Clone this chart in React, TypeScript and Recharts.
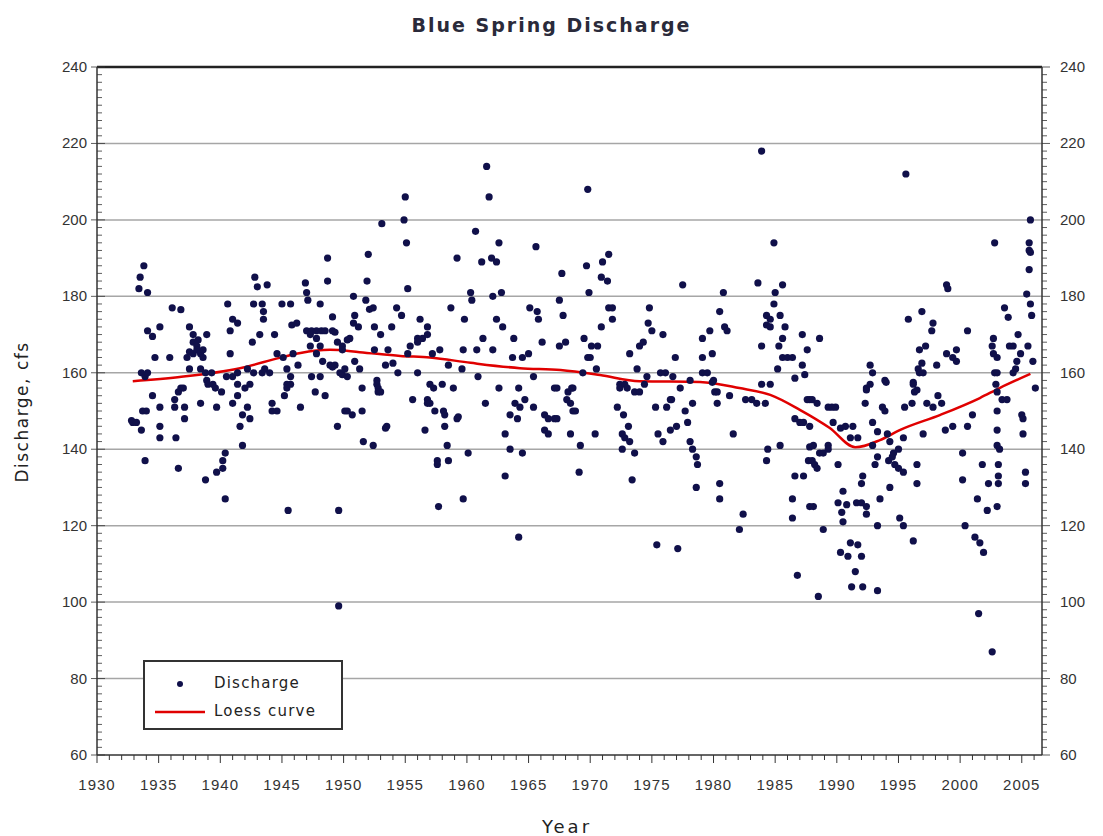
import React from "react"
import { ComposedChart, Scatter, Line, XAxis, YAxis, ReferenceLine, Legend } from "recharts"

const obs1930s = [
  [1932.8, 147.5], [1932.9, 147], [1933.2, 147], [1933.4, 182], [1933.5, 185], [1933.6, 160], [1933.6, 145],
  [1933.7, 150], [1933.8, 188], [1933.9, 159], [1933.9, 137], [1934.0, 150], [1934.1, 181], [1934.1, 171],
  [1934.1, 160], [1934.5, 169.5], [1934.5, 154], [1934.7, 164], [1935.1, 172], [1935.1, 151], [1935.1, 146],
  [1935.1, 143], [1935.9, 164], [1936.1, 177], [1936.3, 153], [1936.3, 151], [1936.4, 143], [1936.6, 155],
  [1936.6, 135], [1936.8, 176.5], [1936.8, 156], [1937.0, 156], [1937.1, 151], [1937.1, 148], [1937.3, 164],
  [1937.5, 172], [1937.5, 165.5], [1937.5, 161], [1937.8, 170], [1937.8, 168], [1937.8, 165], [1938.1, 167],
  [1938.1, 166], [1938.2, 168.6], [1938.4, 165], [1938.4, 161], [1938.4, 152], [1938.6, 166], [1938.6, 164],
  [1938.8, 160], [1938.8, 132], [1938.9, 170], [1938.9, 158], [1939.0, 157], [1939.3, 160], [1939.4, 157],
  [1939.6, 156], [1939.7, 151], [1939.7, 134], [1940.1, 155],
]

const obs1940s = [
  [1940.2, 135], [1940.2, 137], [1940.4, 139], [1940.4, 127], [1940.5, 159], [1940.6, 178], [1940.8, 171],
  [1940.8, 165], [1941.0, 174], [1941.0, 159], [1941.0, 152], [1941.4, 173], [1941.4, 160], [1941.4, 157],
  [1941.4, 154], [1941.6, 146], [1941.8, 149], [1941.8, 141], [1942.0, 156], [1942.2, 161], [1942.2, 151],
  [1942.4, 157], [1942.4, 148], [1942.6, 168], [1942.7, 178], [1942.7, 160], [1942.8, 185], [1943.0, 182.5],
  [1943.2, 170], [1943.4, 178], [1943.4, 160], [1943.5, 176], [1943.5, 174], [1943.6, 161], [1943.8, 183],
  [1944.0, 160], [1944.2, 152], [1944.2, 150], [1944.4, 170], [1944.6, 165], [1944.6, 150], [1945.0, 178],
  [1945.1, 164], [1945.2, 154], [1945.4, 161], [1945.4, 157], [1945.4, 156], [1945.5, 124], [1945.7, 178],
  [1945.7, 159], [1945.7, 157], [1945.8, 172.5], [1945.9, 165], [1946.2, 173], [1946.3, 162], [1946.5, 151],
  [1946.9, 183.5], [1947.0, 181], [1947.0, 171], [1947.1, 179], [1947.3, 170], [1947.3, 167], [1947.4, 171],
  [1947.4, 159], [1947.7, 155], [1947.8, 171], [1947.8, 169], [1947.8, 165], [1948.1, 178], [1948.1, 167],
  [1948.1, 159], [1948.2, 171], [1948.3, 163], [1948.5, 171], [1948.5, 154], [1948.7, 190], [1948.7, 184],
  [1948.9, 162], [1949.1, 174.6], [1949.1, 171], [1949.1, 161.5], [1949.3, 170.6], [1949.3, 162], [1949.5, 168],
  [1949.5, 146], [1949.6, 124], [1949.6, 99], [1949.7, 160], [1949.9, 167], [1949.9, 166], [1949.9, 159.5],
]

const obs1950s = [
  [1950.1, 161], [1950.1, 150], [1950.3, 168.6], [1950.3, 159], [1950.3, 150], [1950.5, 169], [1950.7, 149],
  [1950.8, 180], [1950.8, 173], [1950.9, 175], [1950.9, 163], [1951.2, 172], [1951.3, 161], [1951.5, 156],
  [1951.5, 150], [1951.6, 142], [1951.8, 179], [1951.9, 184], [1952.0, 191], [1952.1, 176.6], [1952.4, 177],
  [1952.4, 141], [1952.5, 172], [1952.5, 166], [1952.7, 158], [1952.7, 157], [1952.8, 156], [1952.8, 155],
  [1953.0, 170], [1953.0, 155], [1953.1, 199], [1953.4, 162], [1953.4, 145.5], [1953.5, 146], [1953.6, 166],
  [1953.9, 172], [1954.0, 162.5], [1954.3, 177], [1954.4, 160], [1954.7, 175], [1954.9, 200], [1955.0, 206],
  [1955.1, 194], [1955.2, 182], [1955.2, 165], [1955.4, 167], [1955.6, 153], [1956.0, 169], [1956.0, 168],
  [1956.0, 160], [1956.2, 174], [1956.4, 169], [1956.6, 145], [1956.8, 172], [1956.8, 170], [1956.8, 153],
  [1956.8, 152], [1957.0, 157], [1957.0, 152], [1957.2, 165], [1957.3, 156], [1957.4, 150], [1957.6, 137],
  [1957.6, 136], [1957.7, 125], [1957.8, 166], [1958.0, 157], [1958.1, 150], [1958.2, 149], [1958.2, 146],
  [1958.4, 141], [1958.5, 162], [1958.5, 137], [1958.7, 177], [1958.9, 156], [1959.2, 190], [1959.2, 148],
  [1959.3, 148.5], [1959.6, 161], [1959.7, 166], [1959.7, 127], [1959.8, 174],
]

const obs1960s = [
  [1960.1, 139], [1960.3, 181], [1960.4, 179], [1960.7, 197], [1960.8, 166], [1960.9, 159], [1961.2, 189],
  [1961.3, 169], [1961.5, 152], [1961.6, 214], [1961.8, 206], [1962.0, 190], [1962.1, 180], [1962.1, 166],
  [1962.4, 189], [1962.4, 174], [1962.6, 194], [1962.6, 156], [1962.8, 181], [1962.9, 172], [1963.1, 144],
  [1963.1, 133], [1963.5, 149], [1963.5, 140], [1963.7, 164], [1963.8, 169], [1963.9, 152], [1964.1, 148],
  [1964.2, 156], [1964.2, 117], [1964.3, 151], [1964.5, 164], [1964.5, 139], [1964.7, 153], [1965.0, 165],
  [1965.1, 177], [1965.4, 159], [1965.4, 151], [1965.6, 193], [1965.7, 176], [1965.8, 174], [1966.1, 168],
  [1966.3, 149], [1966.3, 145], [1966.6, 148], [1966.6, 144], [1967.1, 156], [1967.1, 148], [1967.3, 156],
  [1967.3, 148], [1967.5, 179], [1967.5, 167], [1967.7, 186], [1967.8, 175], [1968.0, 168], [1968.1, 153],
  [1968.2, 155], [1968.4, 152], [1968.4, 144], [1968.5, 156], [1968.6, 156], [1968.6, 150], [1968.8, 150],
  [1969.1, 134], [1969.2, 141], [1969.4, 160], [1969.5, 169], [1969.7, 188], [1969.8, 208], [1969.8, 164],
  [1969.9, 181],
]

const obs1970s = [
  [1970.0, 164], [1970.1, 167], [1970.4, 144], [1970.5, 161], [1970.6, 167], [1970.9, 185], [1970.9, 172],
  [1971.0, 189], [1971.4, 184], [1971.5, 191], [1971.5, 177], [1971.8, 177], [1971.8, 174], [1972.2, 151],
  [1972.4, 157], [1972.4, 156], [1972.6, 144], [1972.6, 140], [1972.7, 149], [1972.8, 157], [1972.8, 143],
  [1973.0, 156], [1973.1, 146], [1973.2, 165], [1973.2, 142], [1973.4, 132], [1973.6, 155], [1973.6, 139],
  [1973.8, 161], [1974.0, 167], [1974.0, 155], [1974.3, 168], [1974.4, 157], [1974.6, 159], [1974.7, 173],
  [1974.8, 177], [1975.0, 171], [1975.3, 151], [1975.4, 115], [1975.5, 144], [1975.7, 160], [1975.9, 170],
  [1975.9, 142], [1976.1, 160], [1976.2, 151], [1976.5, 153], [1976.5, 145], [1976.6, 153], [1976.7, 159],
  [1976.9, 164], [1977.0, 146], [1977.1, 114], [1977.3, 156], [1977.5, 183], [1977.7, 150], [1977.9, 147],
  [1978.1, 158], [1978.1, 142], [1978.3, 152], [1978.3, 140], [1978.6, 138], [1978.6, 130], [1978.7, 136],
  [1979.1, 169], [1979.1, 164], [1979.1, 160], [1979.5, 160], [1979.7, 171], [1979.9, 165], [1979.9, 157.5],
]

const obs1980s = [
  [1980.0, 158], [1980.1, 155], [1980.3, 155], [1980.3, 152], [1980.5, 176], [1980.5, 131], [1980.5, 127],
  [1980.8, 181], [1980.9, 172], [1981.1, 171], [1981.3, 154], [1981.6, 144], [1982.1, 119], [1982.4, 123],
  [1982.6, 153], [1983.1, 153], [1983.5, 152], [1983.6, 183.5], [1983.9, 218], [1983.9, 167], [1983.9, 157],
  [1984.2, 152], [1984.3, 175], [1984.3, 172.5], [1984.3, 137], [1984.4, 140], [1984.6, 174], [1984.6, 172],
  [1984.6, 157], [1984.9, 194], [1984.9, 178], [1985.0, 181], [1985.2, 161], [1985.3, 167], [1985.4, 175],
  [1985.4, 141], [1985.6, 183], [1985.6, 169], [1985.6, 164], [1985.8, 172], [1986.0, 164], [1986.4, 164],
  [1986.4, 127], [1986.4, 122], [1986.6, 158.6], [1986.6, 148], [1986.6, 133], [1986.8, 107], [1987.0, 147],
  [1987.2, 170], [1987.2, 162], [1987.3, 147], [1987.3, 133], [1987.4, 159.5], [1987.6, 166], [1987.6, 153],
  [1987.7, 137], [1987.8, 153], [1987.8, 146], [1987.8, 140.6], [1987.8, 125], [1988.0, 153], [1988.0, 137],
  [1988.1, 141], [1988.1, 125], [1988.2, 136], [1988.4, 152], [1988.4, 135], [1988.5, 101.5], [1988.6, 169],
  [1988.6, 139], [1988.9, 139], [1988.9, 119], [1989.3, 151], [1989.3, 141], [1989.3, 140], [1989.6, 151],
  [1989.7, 147], [1989.9, 151],
]

const obs1990s = [
  [1990.1, 136], [1990.1, 126], [1990.3, 145.5], [1990.3, 113], [1990.4, 123.5], [1990.5, 129], [1990.5, 121],
  [1990.7, 146], [1990.8, 125.5], [1990.9, 112], [1991.1, 143], [1991.1, 115.5], [1991.2, 104], [1991.3, 146],
  [1991.5, 108], [1991.6, 126], [1991.7, 143], [1991.7, 115], [1992.0, 131], [1992.0, 126], [1992.0, 112],
  [1992.1, 133], [1992.1, 104], [1992.3, 152], [1992.4, 156], [1992.4, 155.5], [1992.4, 125], [1992.4, 123],
  [1992.7, 162], [1992.7, 157], [1992.9, 160], [1992.9, 147], [1992.9, 141], [1993.1, 136], [1993.3, 144.6],
  [1993.3, 138], [1993.3, 120], [1993.3, 103], [1993.5, 127], [1993.7, 151], [1993.9, 158], [1993.9, 150],
  [1994.0, 157.5], [1994.1, 144], [1994.2, 137], [1994.3, 142], [1994.3, 130], [1994.5, 138], [1994.6, 139],
  [1994.7, 136], [1995.0, 140], [1995.0, 135], [1995.1, 122], [1995.4, 143], [1995.4, 134], [1995.4, 120],
  [1995.5, 151], [1995.6, 212], [1995.8, 174], [1996.1, 152], [1996.2, 157.5], [1996.2, 157], [1996.2, 116],
  [1996.3, 155], [1996.5, 155.5], [1996.5, 136], [1996.5, 131], [1996.6, 161], [1996.7, 166], [1996.7, 160],
  [1996.9, 176], [1996.9, 162.5], [1997.0, 160], [1997.0, 144], [1997.2, 167], [1997.3, 152], [1997.7, 171],
  [1997.8, 173], [1997.8, 151], [1998.1, 162], [1998.2, 154], [1998.5, 152], [1998.8, 145], [1998.9, 183],
  [1998.9, 165], [1999.0, 182], [1999.4, 164], [1999.4, 146], [1999.7, 166], [1999.7, 163],
]

const obs2000s = [
  [2000.2, 139], [2000.2, 132], [2000.4, 120], [2000.6, 171], [2000.6, 146], [2001.0, 149], [2001.2, 117],
  [2001.4, 127], [2001.5, 97], [2001.6, 115.5], [2001.8, 136], [2001.9, 113], [2002.2, 124], [2002.3, 131],
  [2002.6, 167], [2002.6, 87], [2002.7, 169], [2002.7, 165], [2002.8, 194], [2002.8, 160], [2002.9, 157],
  [2003.0, 164], [2003.0, 160], [2003.0, 155], [2003.0, 150], [2003.0, 145], [2003.0, 141], [2003.0, 125],
  [2003.1, 136], [2003.1, 133], [2003.1, 131], [2003.2, 140], [2003.4, 153], [2003.6, 177], [2003.8, 153],
  [2003.9, 174.5], [2004.0, 167], [2004.3, 167], [2004.3, 160], [2004.5, 161], [2004.6, 163], [2004.7, 170],
  [2004.9, 165], [2005.0, 149], [2005.1, 148], [2005.1, 144], [2005.3, 134], [2005.3, 131], [2005.4, 180.6],
  [2005.5, 167], [2005.6, 194], [2005.6, 192], [2005.6, 187], [2005.7, 200], [2005.7, 191.5], [2005.7, 178],
  [2005.8, 175], [2005.9, 163], [2006.1, 156],
]

// Loess smooth
const loessCurve = [
  [1932.9, 157.8], [1936.7, 158.9], [1941.6, 161.2], [1944.8, 163.9], [1946.5, 165.2], [1948.9, 166],
  [1951.3, 165.4], [1954.6, 164.4], [1957.0, 164], [1960.3, 162.6], [1964.3, 161.2], [1967.6, 160.7],
  [1970.8, 159.4], [1974.0, 157.8], [1978.9, 157.6], [1982.1, 156], [1984.6, 154.2], [1987.0, 150.3],
  [1989.4, 145.6], [1991.5, 140.5], [1993.5, 142.4], [1995.1, 145], [1998.4, 149], [2001.6, 153.4],
  [2003.2, 156], [2005.7, 159.7],
]

const yearTicks = Array.from({ length: 77 }, (_, i) => 1930 + i)
const cfsTicks = Array.from({ length: 91 }, (_, i) => 60 + i * 2)
const gridValues = [80, 100, 120, 140, 160, 180, 200, 220]

const discharge = [...obs1930s, ...obs1940s, ...obs1950s, ...obs1960s, ...obs1970s, ...obs1980s, ...obs1990s, ...obs2000s]
  .map(([year, cfs]) => ({ year, cfs }))
const loess = loessCurve.map(([year, cfs]) => ({ year, cfs }))

const FONT = '"Liberation Sans", Arial, sans-serif'
const WIDE = '"DejaVu Sans", "Liberation Sans", sans-serif'
const INK = "#333"
const DOT = "#10104a"

const YearTick = ({ x, y, payload }: any) => {
  const major = payload.value % 5 === 0
  return (
    <g>
      <line x1={x} x2={x} y1={y} y2={y + (major ? 8 : 5)} stroke={INK} />
      {major && (
        <text x={x} y={y + 35} textAnchor="middle" fontSize={15} letterSpacing={1} fill={INK} fontFamily={FONT}>
          {payload.value}
        </text>
      )}
    </g>
  )
}

const LeftTick = ({ x, y, payload }: any) => {
  const major = payload.value % 20 === 0
  return (
    <g>
      <line x1={x - (major ? 6 : 0)} x2={x + (major ? 8 : 5)} y1={y} y2={y} stroke={INK} strokeWidth={0.8} />
      {major && (
        <text x={x - 10} y={y} dy={5} textAnchor="end" fontSize={15} fill={INK} fontFamily={FONT}>
          {payload.value}
        </text>
      )}
    </g>
  )
}

const RightTick = ({ x, y, payload }: any) => {
  const major = payload.value % 20 === 0
  return (
    <g>
      <line x1={x} x2={x + (major ? 8 : 5)} y1={y} y2={y} stroke={INK} strokeWidth={0.8} />
      {major && (
        <text x={x + 18} y={y} dy={5} textAnchor="start" fontSize={15} fill={INK} fontFamily={FONT}>
          {payload.value}
        </text>
      )}
    </g>
  )
}

const LegendBox = () => (
  <div
    style={{
      width: 196,
      height: 66,
      border: `2px solid ${INK}`,
      background: "#fff",
      position: "relative",
      fontFamily: WIDE,
      fontSize: 15,
      letterSpacing: 1.2,
      color: "#222",
    }}
  >
    <svg width={60} height={66} style={{ position: "absolute", left: 0, top: 0 }}>
      <circle cx={35} cy={22} r={3} fill={DOT} />
      <line x1={10} x2={60} y1={50} y2={50} stroke="#e00000" strokeWidth={2.5} />
    </svg>
    <div style={{ position: "absolute", left: 69, top: 12 }}>Discharge</div>
    <div style={{ position: "absolute", left: 69, top: 40 }}>Loess curve</div>
  </div>
)

export default function App() {
  return (
    <div style={{ position: "absolute", left: 0, top: 0, width: 1103, height: 836, background: "#fff" }}>
      <div
        style={{
          position: "absolute",
          top: 14,
          left: 0,
          width: 1103,
          textAlign: "center",
          fontFamily: WIDE,
          fontWeight: "bold",
          fontSize: 19,
          letterSpacing: 2,
          color: "#2a2a3a",
        }}
      >
        Blue Spring Discharge
      </div>
      <ComposedChart width={1103} height={836} margin={{ top: 67, right: 0, bottom: 0, left: 0 }}>
        <XAxis
          type="number"
          dataKey="year"
          domain={[1930, 2006.64]}
          ticks={yearTicks}
          interval={0}
          tick={<YearTick />}
          tickLine={false}
          tickSize={0}
          tickMargin={0}
          height={81}
          allowDataOverflow
          axisLine={{ stroke: INK, strokeWidth: 1.5 }}
          label={{
            content: () => (
              <text x={567} y={833} textAnchor="middle" fontSize={18} letterSpacing={3} fill="#222" fontFamily={WIDE}>
                Year
              </text>
            ),
          }}
        />
        <YAxis
          yAxisId="left"
          type="number"
          dataKey="cfs"
          domain={[60, 240]}
          ticks={cfsTicks}
          interval={0}
          tick={<LeftTick />}
          tickLine={false}
          tickSize={0}
          tickMargin={0}
          width={97}
          allowDataOverflow
          axisLine={{ stroke: INK, strokeWidth: 1.5 }}
          label={{
            content: () => (
              <text
                x={22}
                y={412}
                transform="rotate(-90 22 412)"
                textAnchor="middle"
                dominantBaseline="central"
                fontSize={17}
                letterSpacing={1.5}
                fill="#222"
                fontFamily={WIDE}
              >
                Discharge, cfs
              </text>
            ),
          }}
        />
        <YAxis
          yAxisId="right"
          orientation="right"
          type="number"
          domain={[60, 240]}
          ticks={cfsTicks}
          interval={0}
          tick={<RightTick />}
          tickLine={false}
          tickSize={0}
          tickMargin={0}
          width={61}
          allowDataOverflow
          axisLine={{ stroke: INK, strokeWidth: 1.5 }}
        />
        {gridValues.map((v) => (
          <ReferenceLine key={v} yAxisId="left" y={v} stroke="#a6a6a6" strokeWidth={1.5} />
        ))}
        <ReferenceLine yAxisId="left" y={240} stroke="#222" strokeWidth={2.5} />
        <Legend
          layout="horizontal"
          verticalAlign="middle"
          align="center"
          content={() => <LegendBox />}
          wrapperStyle={{ position: "absolute", left: 143, top: 660, width: 200, height: 70 }}
        />
        <Scatter
          yAxisId="left"
          data={discharge}
          dataKey="cfs"
          fill={DOT}
          isAnimationActive={false}
          shape={(p: any) => <circle cx={p.cx} cy={p.cy} r={3.6} fill={DOT} />}
        />
        <Line
          yAxisId="left"
          data={loess}
          dataKey="cfs"
          type="monotone"
          stroke="#e00000"
          strokeWidth={2.5}
          dot={false}
          activeDot={false}
          isAnimationActive={false}
        />
      </ComposedChart>
    </div>
  )
}
